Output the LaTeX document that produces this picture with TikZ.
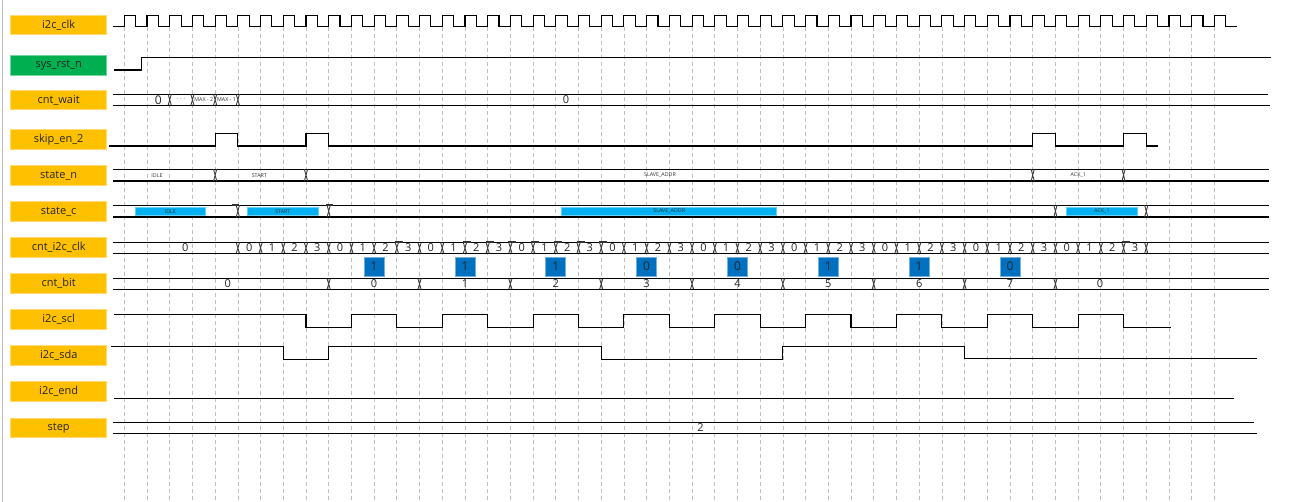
\documentclass[tikz,border=0pt]{standalone}
\usepackage{fontspec}
\setmainfont{Open Sans}
\definecolor{labY}{HTML}{FFC000}
\definecolor{labG}{HTML}{00B050}
\definecolor{barC}{HTML}{00B0F0}
\definecolor{bitB}{HTML}{0070C0}
\definecolor{gridC}{HTML}{C0C0C0}
\begin{document}
\begin{tikzpicture}[x=1pt,y=-1pt,
  declare function={X(\k)=124.3+22.71*\k;},
  lab/.style={fill=labY, draw=labY!55, line width=0.8pt, minimum width=96pt, minimum height=19.5pt, inner sep=0pt, font=\fontsize{11}{13}\selectfont, text=black!85},
  sig/.style={line width=1.1pt, black, line join=miter},
  tr/.style={line width=0.9pt, black!75},
  gridline/.style={gridC, line width=0.7pt, dash pattern=on 4pt off 3pt},
  val/.style={font=\fontsize{11}{13}\selectfont, inner sep=0pt, text=black!85},
  tiny/.style={font=\fontsize{5.3}{6}\selectfont, inner sep=0pt, text=black!80},
  cbar/.style={fill=barC, draw=barC!60, line width=0.5pt},
  bitbox/.style={fill=bitB, draw=bitB!55, line width=0.8pt, minimum width=20pt, minimum height=19pt, inner sep=0pt, font=\fontsize{12}{14}\selectfont, text=black!85},
  art/.style={line width=1.8pt, black!80}
]
\useasboundingbox (0,0) rectangle (1300,502);
\fill[white] (0,0) rectangle (1300,502);
\draw[black!25, line width=1.5pt] (2.5,0) -- (2.5,502);

% grid
\foreach \k in {0,...,48} \draw[gridline] ({X(\k)},27) -- ({X(\k)},502);

% labels
\node[lab] (l1) at (58.7,24.8) {i2c\_clk};
\node[lab, fill=labG, draw=labG!55] (l2) at (58.7,65.5) {sys\_rst\_n};
\node[lab] (l3) at (58.7,100) {cnt\_wait};
\node[lab] (l4) at (58.7,139.3) {skip\_en\_2};
\node[lab] (l5) at (58.7,175.3) {state\_n};
\node[lab] (l6) at (58.7,211.3) {state\_c};
\node[lab] (l7) at (58.7,247.3) {cnt\_i2c\_clk};
\node[lab] (l8) at (58.7,283.3) {cnt\_bit};
\node[lab] (l9) at (58.7,319.3) {i2c\_scl};
\node[lab] (l10) at (58.7,355.3) {i2c\_sda};
\node[lab] (l11) at (58.7,391.3) {i2c\_end};
\node[lab] (l12) at (58.7,427.7) {step};

% i2c_clk
\draw[sig] (113,26.7) \foreach \k in {0,...,48} { -- ({X(\k)},26.7) -- ({X(\k)},15.7) -- ({X(\k)+11.35},15.7) -- ({X(\k)+11.35},26.7) } -- (1237,26.7);

% sys_rst_n
\draw[sig] (114,70) -- (141.7,70) -- (141.7,57.3) -- (1270.7,57.3);

% cnt_wait
\draw[sig] (113,94.3) -- (1268,94.3);
\draw[sig] (113,105.3) -- (1270,105.3);
\foreach \k in {2,3,4,5} \draw[tr] ({X(\k)-1.6},94.3) -- ({X(\k)+1.6},105.3) ({X(\k)+1.6},94.3) -- ({X(\k)-1.6},105.3);
\node[val, font=\fontsize{12}{14}\selectfont] (w0) at (158.3,100) {0};
\node[val, font=\fontsize{7}{8}\selectfont] (w1) at ({(X(2)+X(3))/2},99) {$\cdots$};
\node[tiny] (w2) at ({(X(3)+X(4))/2},100) {MAX - 2};
\node[tiny] (w3) at ({(X(4)+X(5))/2},100) {MAX - 1};
\node[val] (w4) at (566,100) {0};

% skip_en_2
\draw[sig] (109,146) -- ({X(4)},146) -- ({X(4)},133.3) -- ({X(5)},133.3) -- ({X(5)},146)
  -- ({X(8)},146) -- ({X(8)},133.3) -- ({X(9)},133.3) -- ({X(9)},146)
  -- ({X(40)},146) -- ({X(40)},133.3) -- ({X(41)},133.3) -- ({X(41)},146)
  -- ({X(44)},146) -- ({X(44)},133.3) -- ({X(45)},133.3) -- ({X(45)},146) -- (1157.7,146);

% state_n
\draw[sig] (113,169.3) -- (1269,169.3);
\draw[sig] (113,181) -- (1269,181);
\foreach \k in {4,8,40,44} \draw[tr] ({X(\k)-1.6},169.3) -- ({X(\k)+1.6},181) ({X(\k)+1.6},169.3) -- ({X(\k)-1.6},181);
\node[tiny] (n1) at (157,175.3) {IDLE};
\node[tiny] (n2) at (259.3,175.3) {START};
\node[tiny] (n3) at (660,175.3) {SLAVE\_ADDR};
\node[tiny] (n4) at (1078.3,175.3) {ACK\_1};

% state_c
\draw[sig] (113,205.3) -- (1269,205.3);
\draw[sig] (113,217) -- (1269,217);
\foreach \k in {5,9,41,45} \draw[tr] ({X(\k)-1.6},205.3) -- ({X(\k)+1.6},217) ({X(\k)+1.6},205.3) -- ({X(\k)-1.6},217);
\draw[art] ({X(5)-6},204.8) -- ({X(5)+1},204.8);
\draw[art] ({X(9)-2.5},204.8) -- ({X(9)+4},204.8);
\draw[cbar] (135.3,207.3) rectangle (205.3,215.3);
\draw[cbar] (247.3,207.3) rectangle (318.3,215.3);
\draw[cbar] (561.7,207.3) rectangle (776.7,215.3);
\draw[cbar] (1066.3,207.3) rectangle (1137.7,215.3);
\node[tiny] (c1) at (170.3,211.3) {IDLE};
\node[tiny] (c2) at (282.8,211.3) {START};
\node[tiny] (c3) at (669.2,211.3) {SLAVE\_ADDR};
\node[tiny] (c4) at (1102,211.3) {ACK\_1};

% cnt_i2c_clk
\draw[sig] (113,242.7) -- (1269,242.7);
\draw[sig] (113,253.3) -- (1269,253.3);
\foreach \k in {5,...,45} \draw[tr] ({X(\k)-1.6},242.7) -- ({X(\k)+1.6},253.3) ({X(\k)+1.6},242.7) -- ({X(\k)-1.6},253.3);
\foreach \k in {12,15,16,17,18,19,20,21,44} \draw[art] ({X(\k)-2},241.9) -- ({X(\k)+6},241.9);
\node[val] (i0) at (185.3,248) {0};
\foreach \k in {5,...,44} {
  \pgfmathtruncatemacro\v{mod(\k-5,4)}
  \node[val] (i\k) at ({X(\k)+11.35},248) {\v};
}

% bit boxes
\foreach \n/\b in {0/1,1/1,2/1,3/0,4/0,5/1,6/1,7/0}
  \node[bitbox] (b\n) at ({X(11+4*\n)},266.5) {\b};

% cnt_bit
\draw[sig] (113,278.7) -- (1269,278.7);
\draw[sig] (113,289.3) -- (1269,289.3);
\foreach \k in {9,13,17,21,25,29,33,37,41} \draw[tr] ({X(\k)-1.6},278.7) -- ({X(\k)+1.6},289.3) ({X(\k)+1.6},278.7) -- ({X(\k)-1.6},289.3);
\node[val] (cb) at (227.7,284) {0};
\foreach \n in {0,...,7} \node[val] (cb\n) at ({X(11+4*\n)},284) {\n};
\node[val] (cbe) at (1100,284) {0};

% i2c_scl
\draw[sig] (114,314.3) -- ({X(8)},314.3)
  \foreach \m in {0,...,8} { -- ({X(8+4*\m)},327.3) -- ({X(10+4*\m)},327.3) -- ({X(10+4*\m)},314.3) -- ({X(12+4*\m)},314.3) }
  -- ({X(44)},327.3) -- (1171,327.3);

% i2c_sda
\draw[sig] (111,346.7) -- ({X(7)},346.7) -- ({X(7)},359.3) -- ({X(9)},359.3) -- ({X(9)},346.7)
  -- ({X(21)},346.7) -- ({X(21)},359.3) -- ({X(29)},359.3) -- ({X(29)},346.7)
  -- ({X(37)},346.7) -- ({X(37)},358.5) -- (1257,358.5);

% i2c_end
\draw[sig] (114,398.3) -- (1234,398.3);

% step
\draw[sig] (113,422.3) -- (1254,422.3);
\draw[sig] (113,433.3) -- (1257,433.3);
\node[val] (s2) at (700.4,428) {2};
\end{tikzpicture}
\end{document}
